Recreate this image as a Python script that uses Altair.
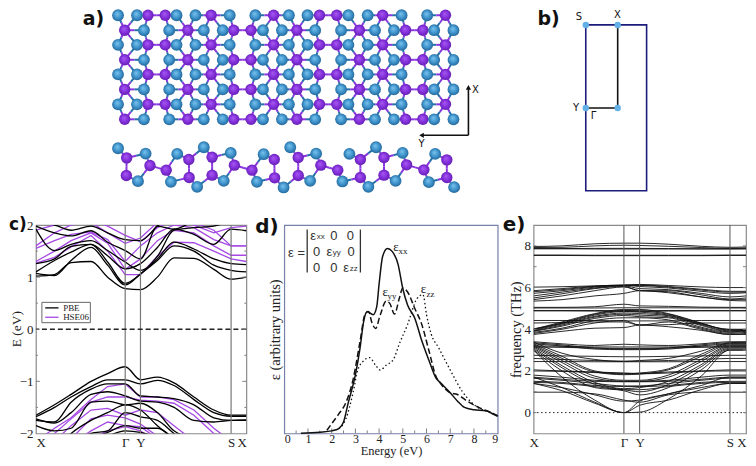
import altair as alt
import pandas as pd
import math

# ---------- panel a: atom positions (structure coordinates)
row_a_y = [44, 133, 222, 312]
row_a_blue = [172, 229, 348, 405, 508, 585, 686, 742, 865, 923, 1025, 1102]
row_a_purple = [262, 314, 452, 640, 778, 830, 968, 1157]
row_b_y = [89, 178, 267, 357]
row_b_blue = [250, 326, 430, 487, 608, 665, 765, 843, 945, 1002, 1123, 1181]
row_b_purple = [192, 382, 520, 572, 710, 898, 1037, 1089]
side_blue = [(172,444),(255,460),(350,461),(430,441),(511,458),(610,462),(690,441),(768,460),(868,461),(948,441),(1028,458),(1126,461),
             (232,543),(331,545),(410,560),(490,542),(590,545),(670,562),(750,542),(847,544),(925,560),(1007,542),(1107,546),(1183,561)]
side_purple = [(198,473),(268,496),(317,510),(385,478),(455,471),(522,495),(575,510),(642,478),(714,472),(782,495),(833,510),(901,478),(972,472),(1040,494),(1092,509),(1161,479),
               (197,526),(386,532),(455,525),(643,533),(714,526),(901,532),(972,525),(1161,532)]
bz_x = [1579, 1675]
bz_y = [73, 323]
bz_box = [1579, 1762, 73, 572]

# ---------- panel c
c_knots = [104,160,210,270,320,373,419,470,520,580,640,692,738]
c_pbe = [
 [1.02,1.05,1.28,1.30,1.00,0.78,0.76,1.00,1.37,1.36,1.15,0.96,1.00],
 [1.07,1.03,1.32,1.57,1.23,0.85,1.06,1.32,1.60,1.50,1.23,1.13,1.10],
 [1.10,1.32,1.48,1.63,1.29,0.88,1.06,1.35,1.67,1.54,1.35,1.26,1.24],
 [1.26,1.35,1.59,1.63,1.41,1.16,1.26,1.57,1.92,1.82,1.63,1.92,1.89],
 [1.92,1.51,1.63,1.70,1.51,1.29,1.13,1.40,1.90,1.95,1.98,2.05,2.05],
 [1.98,1.85,1.79,1.89,1.67,1.51,1.35,1.98,1.92,2.05,2.05,2.02,2.05],
 [2.05,2.00,1.90,1.98,1.85,1.72,1.70,1.98,2.20,2.20,2.10,2.10,2.10],
 [-1.65,-1.45,-1.25,-1.00,-0.85,-0.72,-0.97,-0.92,-1.03,-1.30,-1.55,-1.65,-1.65],
 [-1.68,-1.50,-1.30,-1.10,-0.97,-0.97,-1.05,-0.98,-1.08,-1.35,-1.60,-1.67,-1.67],
 [-1.75,-1.78,-1.40,-1.15,-1.05,-1.05,-1.28,-1.30,-1.33,-1.45,-1.70,-1.75,-1.75],
 [-1.72,-1.80,-1.60,-1.25,-1.20,-1.28,-1.38,-1.40,-1.50,-1.75,-1.78,-1.75,-1.74],
 [-1.85,-1.95,-1.90,-1.40,-1.38,-1.45,-1.42,-1.60,-1.95,-2.10,-2.20,-2.20,-2.20],
 [-2.20,-2.30,-2.00,-1.75,-1.60,-1.45,-1.55,-1.85,-2.10,-2.30,-2.30,-2.30,-2.30],
 [-2.30,-2.30,-2.20,-2.00,-1.95,-1.60,-1.68,-1.75,-2.00,-2.30,-2.30,-2.30,-2.30],
 [-2.40,-2.40,-2.30,-2.10,-1.98,-1.85,-1.90,-1.90,-2.10,-2.40,-2.40,-2.40,-2.40],
 [-2.40,-2.40,-2.40,-2.20,-2.05,-1.95,-1.98,-2.10,-2.40,-2.40,-2.40,-2.40,-2.40],
]
c_hse = [
 [1.27,1.38,1.58,1.80,1.50,1.05,1.05,1.40,1.67,1.66,1.50,1.35,1.30],
 [1.30,1.50,1.70,1.85,1.65,1.15,1.35,1.70,1.90,1.85,1.60,1.42,1.42],
 [1.55,1.70,1.82,1.87,1.72,1.30,1.60,1.85,2.00,1.95,1.72,1.60,1.60],
 [1.60,1.85,2.00,2.05,1.85,1.65,1.75,2.05,2.15,2.05,1.90,1.60,1.60],
 [1.90,2.00,2.10,2.10,1.98,1.80,1.68,1.95,2.10,2.00,1.85,1.95,1.98],
 [-2.15,-1.90,-1.70,-1.35,-1.10,-1.05,-1.30,-1.30,-1.35,-1.55,-1.90,-2.15,-2.20],
 [-2.20,-2.00,-1.72,-1.40,-1.30,-1.30,-1.36,-1.38,-1.42,-1.65,-2.00,-2.20,-2.20],
 [-2.30,-2.15,-1.85,-1.55,-1.52,-1.65,-1.55,-1.60,-1.85,-2.15,-2.40,-2.40,-2.40],
 [-2.40,-2.30,-2.10,-1.72,-1.65,-1.70,-1.82,-2.05,-2.30,-2.40,-2.40,-2.40,-2.40],
 [-2.40,-2.40,-2.20,-1.95,-1.78,-1.85,-1.87,-2.10,-2.40,-2.40,-2.40,-2.40,-2.40],
 [-2.40,-2.40,-2.40,-2.10,-1.95,-1.87,-1.95,-2.20,-2.40,-2.40,-2.40,-2.40,-2.40],
]
c_vlines = [373, 419, 692]
c_xt = [104, 373, 419, 692, 738]

# ---------- panel d
d_xx_e = [0.7,1.5,2,2.3,2.5,2.7,3,3.2,3.35,3.5,3.75,3.9,4,4.15,4.35,4.55,4.8,5,5.2,5.5,5.8,6.1,6.4,6.6,7,7.3,7.6,8,8.5,8.8,9]
d_xx_v = [1,4,8,15,35,95,180,265,345,375,365,390,460,545,569,560,520,445,395,355,285,225,170,155,125,100,80,73,70,60,53]
d_yy_e = [1.8,2,2.3,2.6,2.9,3.2,3.4,3.55,3.7,3.85,4.05,4.3,4.45,4.65,4.85,5,5.2,5.5,5.8,6.1,6.4,6.6,7,7.3,7.7,8.2,8.7,9]
d_yy_v = [10,30,60,95,165,285,365,375,340,323,365,407,400,367,415,447,435,385,335,255,175,153,125,120,100,80,65,55]
d_zz_e = [2.3,2.6,2.9,3.1,3.3,3.6,3.85,4.05,4.3,4.6,4.85,5.2,5.6,5.85,6,6.2,6.5,7,7.5,7.9,8.3,8.7,9]
d_zz_v = [15,45,125,195,220,233,210,195,210,227,275,335,415,427,365,305,265,195,130,95,75,65,53]

# ---------- panel e
e_knots = [113,200,300,389,437,525,625,713,762]
e_bands = [
 [7.97,8.0,8.1,8.13,8.13,8.08,7.98,7.93,7.95],[7.92,7.93,8.0,8.03,8.02,7.98,7.92,7.88,7.9],
 [7.87,7.87,7.88,7.88,7.88,7.87,7.86,7.85,7.86],[7.86,7.86,7.85,7.85,7.85,7.85,7.85,7.86,7.86],
 [7.56,7.56,7.55,7.55,7.55,7.55,7.55,7.56,7.56],[7.54,7.54,7.53,7.53,7.53,7.53,7.53,7.54,7.54],
 [6.02,6.04,6.08,6.12,6.15,6.1,6.03,6.0,6.0],[5.85,5.95,6.07,6.12,6.12,6.05,5.92,5.82,5.82],
 [5.8,5.9,6.05,6.1,6.1,6.02,5.88,5.78,5.78],[5.72,5.85,6.02,6.1,6.05,5.98,5.82,5.72,5.75],
 [5.6,5.78,5.98,6.08,5.95,5.9,5.72,5.55,5.6],[5.5,5.7,5.95,6.05,5.85,5.85,5.65,5.45,5.5],
 [5.42,5.6,5.85,6.03,5.85,5.8,5.55,5.42,5.42],[5.35,5.42,5.6,5.72,5.85,5.75,5.55,5.38,5.36],
 [5.05,5.05,5.08,5.2,5.12,5.1,5.06,5.05,5.05],[5.02,5.02,5.02,5.03,5.03,5.03,5.02,5.02,5.02],
 [4.9,4.9,4.9,4.88,4.88,4.9,4.9,4.9,4.9],[4.88,4.88,4.87,4.86,4.86,4.87,4.88,4.88,4.88],
 [4.0,4.35,4.75,4.95,4.95,4.75,4.3,3.95,3.95],[3.98,4.3,4.72,4.9,4.88,4.72,4.28,3.98,3.98],
 [4.02,4.28,4.68,4.85,4.82,4.68,4.25,4.0,4.0],[3.95,4.25,4.62,4.78,4.75,4.65,4.22,3.92,3.95],
 [3.92,4.2,4.58,4.72,4.68,4.6,4.18,3.88,3.92],[3.9,4.15,4.52,4.66,4.6,4.55,4.1,3.85,3.9],
 [3.85,4.05,4.42,4.55,4.55,4.45,4.05,3.8,3.85],[3.8,4.0,4.3,4.42,4.2,4.35,4.0,3.75,3.8],
 [3.75,3.9,4.05,4.08,4.2,4.12,3.95,3.75,3.75],[4.42,4.42,4.42,4.4,4.4,4.4,4.42,4.42,4.42],
 [4.3,4.32,4.35,4.35,4.2,4.22,4.3,4.3,4.3],
 [3.4,3.3,3.22,3.28,3.25,3.22,3.3,3.4,3.4],[3.35,3.25,3.1,3.05,3.05,3.1,3.25,3.35,3.35],
 [3.3,3.2,3.05,3.02,3.02,3.05,3.2,3.3,3.3],[3.2,3.18,3.15,3.15,3.15,3.15,3.18,3.2,3.2],
 [3.15,3.13,3.1,3.08,3.08,3.1,3.13,3.15,3.15],
 [3.38,2.85,2.55,2.45,2.5,2.6,2.95,3.35,3.38],[3.3,2.7,2.0,1.85,1.9,2.1,2.8,3.3,3.3],
 [3.25,2.6,1.95,1.82,1.85,2.05,2.7,3.25,3.25],[3.2,2.5,1.75,1.55,1.55,1.8,2.55,3.2,3.2],
 [3.15,2.4,1.65,1.5,1.5,1.7,2.45,3.15,3.15],[3.1,2.25,1.45,1.15,1.2,1.5,2.3,3.1,3.1],
 [3.05,2.15,1.35,1.1,1.0,1.35,2.2,3.05,3.05],[3.0,2.0,1.2,1.05,0.85,1.2,2.05,3.0,3.0],
 [2.75,2.72,2.7,2.68,2.68,2.7,2.72,2.75,2.75],[2.6,2.55,2.5,2.47,2.47,2.5,2.55,2.6,2.6],
 [2.45,2.45,2.44,2.44,2.44,2.44,2.45,2.45,2.45],[2.05,2.0,1.95,1.9,1.88,1.95,2.0,2.05,2.05],
 [2.0,1.98,1.92,1.88,1.86,1.9,1.98,2.0,2.0],[1.8,1.7,1.55,1.5,1.5,1.55,1.7,1.8,1.8],
 [1.7,1.6,1.5,1.48,1.48,1.5,1.6,1.7,1.7],[1.65,1.55,1.4,1.28,1.28,1.4,1.55,1.65,1.65],
 [1.5,1.45,1.3,1.25,1.25,1.3,1.45,1.5,1.5],[1.45,1.4,1.25,1.1,1.1,1.25,1.4,1.45,1.45],
 [1.4,1.2,0.85,0.55,0.6,0.9,1.2,1.4,1.4],[0.98,0.98,0.9,0.6,0.5,0.85,0.98,0.98,0.98],
 [1.4,1.05,0.45,0.0,0.35,0.6,1.1,1.4,1.4],[3.0,1.7,0.6,0.0,0.02,0.65,1.75,3.0,3.0],
 [1.7,1.2,0.5,0.0,0.55,0.9,1.3,1.7,1.7],
]
e_vlines = [389, 437, 713]
e_xt = [113, 389, 437, 713, 762]

# ---------- shared style
SERIF = "Liberation Serif"
SANS = "DejaVu Sans"
ARIAL = "Liberation Sans"
INK = "#222222"
GREY = "#7f7f7f"
H = 209
def grad(inner, mid, outer):
    return {"gradient": "radial", "x1": 0.42, "y1": 0.36, "r1": 0, "x2": 0.5, "y2": 0.5, "r2": 0.56,
            "stops": [{"offset": 0, "color": inner}, {"offset": 0.55, "color": mid}, {"offset": 1, "color": outer}]}
BLUE_G = grad("#7cc4ee", "#3f94cc", "#1f5f92")
PURP_G = grad("#a95cf0", "#8430dc", "#5e1ea8")

# ---------- top panel
atoms_top = []
for y in row_a_y:
    atoms_top += [(x, y, "B") for x in row_a_blue] + [(x, y, "P") for x in row_a_purple]
for y in row_b_y:
    atoms_top += [(x, y, "B") for x in row_b_blue] + [(x, y, "P") for x in row_b_purple]
atoms_side = [(x, y, "B") for x, y in side_blue] + [(x, y, "P") for x, y in side_purple]
def bonds(atoms):
    out = []
    for i, a in enumerate(atoms):
        for b in atoms[i+1:]:
            if a[2] == "B" and b[2] == "B":
                continue
            if math.hypot(a[0]-b[0], a[1]-b[1]) < 60:
                mx, my = (a[0]+b[0])/2, (a[1]+b[1])/2
                for p in (a, b):
                    out.append(dict(x=p[0], y=p[1], x2=mx, y2=my, c="#8a35e0" if p[2] == "P" else "#2470a8"))
    return out
bond_df = pd.DataFrame(bonds(atoms_top) + bonds(atoms_side))
atom_df = pd.DataFrame(atoms_top + atoms_side, columns=["x", "y", "t"])

TOP_H = 190
TOP_W = 720
xs = alt.Scale(domain=[-156, -156 + 3*TOP_W], nice=False, zero=False)
ys = alt.Scale(domain=[24, 24 + 3*TOP_H], reverse=True, nice=False, zero=False)
X = lambda f="x": alt.X(f"{f}:Q", scale=xs, axis=None)
Y = lambda f="y": alt.Y(f"{f}:Q", scale=ys, axis=None)

bond_layer = alt.Chart(bond_df).mark_rule(strokeWidth=2).encode(
    x=X(), y=Y(), x2="x2:Q", y2="y2:Q", color=alt.Color("c:N", scale=None))
purple_layer = alt.Chart(atom_df[atom_df.t == "P"]).mark_circle(size=130, opacity=1, fill=PURP_G).encode(x=X(), y=Y())
blue_layer = alt.Chart(atom_df[atom_df.t == "B"]).mark_circle(size=140, opacity=1, fill=BLUE_G).encode(x=X(), y=Y())

arrow_df = pd.DataFrame([dict(x=1226, y=405, x2=1226, y2=262), dict(x=1226, y=405, x2=1086, y2=405)])
arrow = alt.Chart(arrow_df).mark_rule(strokeWidth=1.6, color="#111").encode(x=X(), y=Y(), x2="x2:Q", y2="y2:Q")
heads = alt.Chart(pd.DataFrame(dict(x=[1226, 1085], y=[261, 405], s=["triangle-up", "triangle-left"]))).mark_point(
    filled=True, size=28, opacity=1, color="#111").encode(x=X(), y=Y(), shape=alt.Shape("s:N", scale=None))

box_df = pd.DataFrame([dict(x=bz_box[0], x2=bz_box[1], y=bz_box[2], y2=bz_box[3])])
box = alt.Chart(box_df).mark_rect(fill=None, stroke="#1c1c7c", strokeWidth=1.6).encode(x=X(), y=Y(), x2="x2:Q", y2="y2:Q")
path_df = pd.DataFrame([dict(x=bz_x[1], y=bz_y[0], x2=bz_x[1], y2=bz_y[1]), dict(x=bz_x[1], y=bz_y[1], x2=bz_x[0], y2=bz_y[1])])
path = alt.Chart(path_df).mark_rule(strokeWidth=1.6, color="#111").encode(x=X(), y=Y(), x2="x2:Q", y2="y2:Q")
hs = pd.DataFrame([(a, b) for a in bz_x for b in bz_y], columns=["x", "y"])
hs_pts = alt.Chart(hs).mark_circle(size=42, opacity=1, color="#62b0e6").encode(x=X(), y=Y())

top_txt = pd.DataFrame(dict(
    t=["X", "Y", "S", "X", "Y", "Γ"],
    x=[1247, 1085, 1558, 1674, 1550, 1602],
    y=[268, 430, 50, 44, 322, 347]))
top_labels = alt.Chart(top_txt).mark_text(font=SANS, fontSize=10, color="#111").encode(x=X(), y=Y(), text="t:N")
head_txt = pd.DataFrame(dict(t=["a)", "b)"], x=[66, 1434], y=[56, 56]))
top_heads = alt.Chart(head_txt).mark_text(font=SANS, fontSize=19, fontWeight="bold", align="left", color="#111").encode(x=X(), y=Y(), text="t:N")

top = alt.layer(bond_layer, purple_layer, blue_layer, arrow, heads, box, path, hs_pts, top_labels, top_heads).properties(width=TOP_W, height=TOP_H)

# ---------- helpers for bottom panels
def long_lines(knots, rows, tag):
    return [dict(k=k, v=v, band=f"{tag}{i}", g=tag) for i, r in enumerate(rows) for k, v in zip(knots, r)]
def panel_head(text, x, y=1, size=20):
    return alt.Chart(pd.DataFrame(dict(t=[text]))).mark_text(font=SANS, fontSize=size, fontWeight="bold", align="left", color="#111", clip=False).encode(
        text="t:N", x=alt.value(x), y=alt.value(y))
def spacer(w):
    return alt.Chart(pd.DataFrame(dict(a=[0]))).mark_point(opacity=0, size=1).encode(x=alt.value(w/2), y=alt.value(100)).properties(width=w, height=H)
def tick_labels_expr(vals, labels):
    body = ",".join(f"'{v}':'{l}'" for v, l in zip(vals, labels))
    return "{" + body + "}[toString(datum.value)]"
LBL = dict(labelFont=SERIF, labelColor=INK, tickSize=0, domain=False, grid=False, minExtent=0, titleFont=SERIF, titleColor=INK, titleFontWeight="normal")

# ---------- panel c chart
W_C = 211
cx_s = alt.Scale(domain=[104, 738], nice=False, zero=False)
cy_s = alt.Scale(domain=[-2, 2], nice=False)
cx_ax = alt.Axis(values=c_xt, labelFontSize=13, labelPadding=3, labelExpr=tick_labels_expr(c_xt, ["X", "Γ", "Y", "S", "X"]), **LBL)
cy_ax = alt.Axis(values=[-2,-1,0,1,2], format="d", labelFontSize=13, labelPadding=3, **LBL)
CX = lambda f="k": alt.X(f"{f}:Q", scale=cx_s, title=None, axis=cx_ax)
CY = lambda f="v": alt.Y(f"{f}:Q", scale=cy_s, title=None, axis=cy_ax)
c_df = pd.DataFrame(long_lines(c_knots, c_hse, "h"))
c_pb = pd.DataFrame(long_lines(c_knots, c_pbe, "p"))
c_base = alt.Chart(c_df).mark_line(color="#a548e4", strokeWidth=1.3, clip=True, interpolate="linear").encode(x=CX(), y=CY(), detail="band:N")
c_black = alt.Chart(c_pb).mark_line(color="#000", strokeWidth=1.3, clip=True, interpolate="monotone").encode(x=CX(), y=CY(), detail="band:N")
c_v = alt.Chart(pd.DataFrame(dict(k=c_vlines))).mark_rule(color="#777", strokeWidth=1.2).encode(x=CX())
c_zero = alt.Chart(pd.DataFrame(dict(v=[0]))).mark_rule(color="#222", strokeWidth=1.4, strokeDash=[5, 3]).encode(y=CY())
c_tmaj = alt.Chart(pd.DataFrame(dict(v=[-1,0,1]))).mark_rule(color=GREY).encode(y=CY(), x=alt.value(0), x2=alt.value(4))
c_tmin = alt.Chart(pd.DataFrame(dict(v=[-1.5,-.5,.5,1.5]))).mark_rule(color=GREY).encode(y=CY(), x=alt.value(0), x2=alt.value(2))
c_rmaj = alt.Chart(pd.DataFrame(dict(v=[-1,0,1]))).mark_rule(color=GREY).encode(y=CY(), x=alt.value(W_C-4), x2=alt.value(W_C))
c_rmin = alt.Chart(pd.DataFrame(dict(v=[-1.5,-.5,.5,1.5]))).mark_rule(color=GREY).encode(y=CY(), x=alt.value(W_C-2), x2=alt.value(W_C))
leg_box = alt.Chart(pd.DataFrame([dict(k=122, k2=268, v=0.516, v2=0.126)])).mark_rect(fill="#fff", stroke="#666", strokeWidth=1).encode(
    x=CX(), x2="k2:Q", y=CY(), y2="v2:Q")
leg_lines = alt.Chart(pd.DataFrame([dict(k=132, k2=172, v=0.41, c="#000"), dict(k=132, k2=172, v=0.23, c="#a548e4")])).mark_rule(strokeWidth=1.3).encode(
    x=CX(), x2="k2:Q", y=CY(), color=alt.Color("c:N", scale=None))
leg_txt = alt.Chart(pd.DataFrame(dict(k=[186, 186], v=[0.41, 0.23], t=["PBE", "HSE06"]))).mark_text(font=SERIF, fontSize=9, align="left", color=INK).encode(
    x=CX(), y=CY(), text="t:N")
c_title = alt.Chart(pd.DataFrame(dict(t=["E (eV)"]))).mark_text(font=SERIF, fontSize=13.5, color=INK, angle=270).encode(
    text="t:N", x=alt.value(-19), y=alt.value(H/2))
panel_c = alt.layer(c_base, c_black, c_v, c_zero, c_tmaj, c_tmin, c_rmaj, c_rmin, leg_box, leg_lines, leg_txt, c_title, panel_head("c)", -27, 0, 17)).properties(
    width=W_C, height=H, view=alt.ViewConfig(stroke="#8a8a8a", strokeWidth=1.2))

# ---------- panel d chart
W_D = 214
dx_s = alt.Scale(domain=[0, 9], nice=False)
dy_s = alt.Scale(domain=[0, 641], nice=False)
dx_ax = alt.Axis(values=list(range(10)), format="d", labelFontSize=12, labelPadding=0, titleFontSize=12.5, titlePadding=0, **LBL)
dy_ax = alt.Axis(values=[], titleFontSize=14.5, titlePadding=2, labels=False, **LBL)
DX = lambda f="e": alt.X(f"{f}:Q", scale=dx_s, title="Energy (eV)", axis=dx_ax)
DY = lambda f="v": alt.Y(f"{f}:Q", scale=dy_s, title="ε (arbitrary units)", axis=dy_ax)
def dash_line(e, v, dash, width):
    m = alt.Chart(pd.DataFrame(dict(e=e, v=v)))
    kw = dict(color="#111", strokeWidth=width, interpolate="monotone")
    if dash:
        kw["strokeDash"] = dash
    return m.mark_line(**kw).encode(x=DX(), y=DY())
d_tmaj = alt.Chart(pd.DataFrame(dict(e=list(range(1, 9))))).mark_rule(color=GREY).encode(x=DX(), y=alt.value(H), y2=alt.value(H-5))
d_tmin = alt.Chart(pd.DataFrame(dict(e=[.5,1.5,2.5,3.5,4.5,5.5,6.5,7.5,8.5]))).mark_rule(color=GREY).encode(x=DX(), y=alt.value(H), y2=alt.value(H-3))
def zx(z): return (z-101)/71.33
def zy(z): return 685-z
mat = [("ε",188,77,13),("xx",211,80,8),("0",250,77,13),("0",300,77,13),
       ("0",198,127,13),("ε",237,127,13),("yy",259,130,8),("0",302,127,13),
       ("0",198,175,13),("0",250,175,13),("ε",287,175,13),("zz",310,178,8),("ε =",138,130,13)]
mat_df = pd.DataFrame(mat, columns=["t","zx","zy","s"])
mat_df["e"] = mat_df.zx.map(zx); mat_df["v"] = mat_df.zy.map(zy)
mat_txt = alt.Chart(mat_df).mark_text(font=ARIAL, color="#333").encode(
    x=DX(), y=DY(), text="t:N", size=alt.Size("s:Q", scale=None, legend=None))
bars = pd.DataFrame([dict(e=zx(170), v=zy(58), v2=zy(190)), dict(e=zx(330), v=zy(58), v2=zy(190))])
mat_bars = alt.Chart(bars).mark_rule(color="#333", strokeWidth=1.3).encode(x=DX(), y=DY(), y2="v2:Q")
ann = [("ε",437,113,13),("xx",458,125,9),("ε",405,250,13),("yy",425,262,9),("ε",520,240,13),("zz",541,255,9)]
ann_df = pd.DataFrame(ann, columns=["t","zx","zy","s"])
ann_df["e"] = ann_df.zx.map(zx); ann_df["v"] = ann_df.zy.map(zy)
ann_txt = alt.Chart(ann_df).mark_text(font=SERIF, color=INK).encode(
    x=DX(), y=DY(), text="t:N", size=alt.Size("s:Q", scale=None, legend=None))
panel_d = alt.layer(d_tmaj, d_tmin, dash_line(d_xx_e, d_xx_v, None, 1.5), dash_line(d_yy_e, d_yy_v, [6, 3], 1.5),
                    dash_line(d_zz_e, d_zz_v, [1.5, 2.5], 1.3), mat_bars, mat_txt, ann_txt, panel_head("d)", -29, 2)).properties(
    width=W_D, height=H, view=alt.ViewConfig(stroke="#7680a8", strokeWidth=1.2))

# ---------- panel e chart
W_E = 213
ex_s = alt.Scale(domain=[113, 762], nice=False, zero=False)
ey_s = alt.Scale(domain=[-1, 9], nice=False)
ex_ax = alt.Axis(values=e_xt, labelFontSize=13, labelPadding=3, labelExpr=tick_labels_expr(e_xt, ["X", "Γ", "Y", "S", "X"]),
                 labelAlign=alt.expr("datum.value == 762 ? 'right' : 'center'"), **LBL)
ey_ax = alt.Axis(values=[0,2,4,6,8], format="d", labelFontSize=13, labelPadding=3, titleFontSize=14.5, titlePadding=1, **LBL)
EX = lambda f="k": alt.X(f"{f}:Q", scale=ex_s, title=None, axis=ex_ax)
EY = lambda f="v": alt.Y(f"{f}:Q", scale=ey_s, title="frequency (THz)", axis=ey_ax)
e_df = pd.DataFrame(long_lines(e_knots, e_bands, "e"))
e_lines = alt.Chart(e_df).mark_line(color="#111", strokeWidth=0.9, clip=True, interpolate="monotone").encode(x=EX(), y=EY(), detail="band:N")
e_v = alt.Chart(pd.DataFrame(dict(k=e_vlines))).mark_rule(color="#555", strokeWidth=1).encode(x=EX())
e_zero = alt.Chart(pd.DataFrame(dict(v=[0]))).mark_rule(color="#222", strokeWidth=1, strokeDash=[1.5, 2.5]).encode(y=EY())
e_tl = alt.Chart(pd.DataFrame(dict(v=[0,1,2,3,4,5,6,7,8]))).mark_rule(color=GREY).encode(y=EY(), x=alt.value(0), x2=alt.value(3))
e_tr = alt.Chart(pd.DataFrame(dict(v=[0,1,2,3,4,5,6,7,8]))).mark_rule(color=GREY).encode(y=EY(), x=alt.value(W_E-3), x2=alt.value(W_E))
panel_e = alt.layer(e_lines, e_v, e_zero, e_tl, e_tr, panel_head("e)", -31, 0)).properties(
    width=W_E, height=H, view=alt.ViewConfig(stroke="#8a8a8a", strokeWidth=1.2))

row = alt.hconcat(spacer(27), panel_c, spacer(38), panel_d, spacer(36), panel_e, spacing=0, bounds="flush")
chart = alt.vconcat(top, row, spacing=16).properties(padding={"left": 0, "right": 0, "top": 0, "bottom": 0}, background="#ffffff").configure_view(stroke=None)
chart.save("out.html", embed_options={"renderer": "svg", "actions": False})
